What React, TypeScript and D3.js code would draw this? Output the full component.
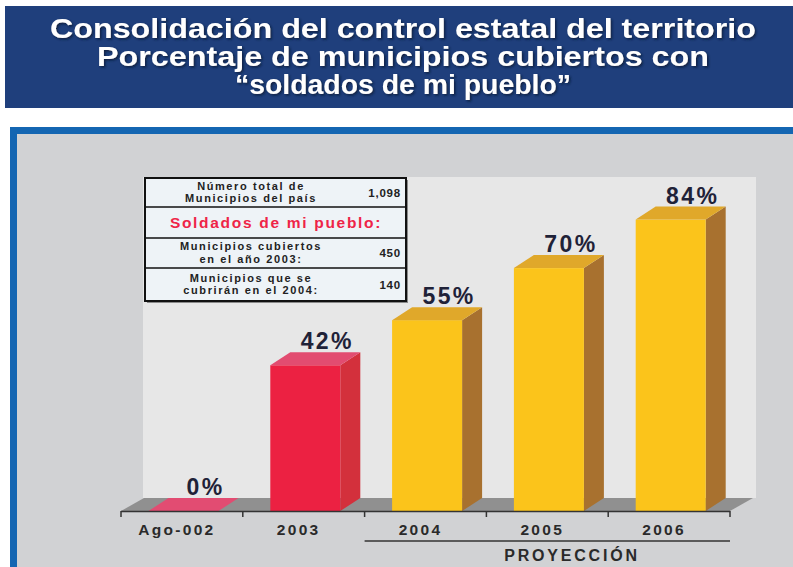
import React from "react";
import * as d3 from "d3";

const titleLines = [
  "Consolidación del control estatal del territorio",
  "Porcentaje de municipios cubiertos con",
  "“soldados de mi pueblo”",
];
const titleWidths = [706, 612, 336];
const categories = ["Ago-002", "2003", "2004", "2005", "2006"];
const values = [0, 42, 55, 70, 84];
const barKinds = ["real", "real", "proj", "proj", "proj"];
const projectionLabel = "PROYECCIÓN";
const projectionFrom = "2004";

const tableRows = [
  { lines: ["Número total de", "Municipios del país"], value: "1,098" },
  { lines: ["Soldados de mi pueblo:"], value: "", highlight: true },
  { lines: ["Municipios cubiertos", "en el año 2003:"], value: "450" },
  { lines: ["Municipios que se", "cubrirán en el 2004:"], value: "140" },
];

const palette = {
  real: { front: "#ec2142", side: "#d3303c", top: "#e24c70" },
  proj: { front: "#fbc41b", side: "#a8712f", top: "#e0a82a" },
};

export default function App() {
  const W = 793;
  const H = 567;
  const x = d3.scaleBand<string>().domain(categories).range([121, 730]).padding(0);
  const y = d3.scaleLinear().domain([0, 100]).range([511, 164]);
  const bw = x.bandwidth();
  const barW = 70;
  const dx = 20;
  const dy = -13;
  const fdx = 23;
  const fdy = -13;
  const y0 = y(0);
  const wallLeft = 121 + fdx - 1;
  const wallRight = 730 + fdx + 3;
  const wallTop = 177;

  const tableX = 145;
  const tableW = 261;
  const rowTops = [178, 207, 238, 268, 301];
  const font = "'Liberation Sans', Arial, sans-serif";

  const projStart = x(projectionFrom)!;
  const projEnd = 730;

  return (
    <svg
      width={W}
      height={H}
      style={{ position: "absolute", left: 0, top: 0 }}
      fontFamily={font}
    >
      <defs>
        <filter id="tshadow" x="-10%" y="-20%" width="120%" height="150%">
          <feDropShadow dx="1.5" dy="1.5" stdDeviation="0.8" floodColor="#0a1a3a" floodOpacity="0.9" />
        </filter>
      </defs>
      <rect x={0} y={0} width={W} height={H} fill="#ffffff" />
      {/* title */}
      <rect x={5} y={6} width={W - 5} height={102} fill="#1f3f7c" />
      {titleLines.map((t, i) => (
        <text
          key={i}
          x={403}
          y={38 + i * 28}
          textAnchor="middle"
          fill="#ffffff"
          fontWeight="bold"
          fontSize={27}
          filter="url(#tshadow)"
          textLength={titleWidths[i]}
          lengthAdjust="spacingAndGlyphs"
        >
          {t}
        </text>
      ))}

      {/* frame */}
      <rect x={10} y={127} width={W - 10} height={H - 127} fill="#1466b2" />
      <rect x={17} y={134} width={W - 17} height={H - 134} fill="#d1d2d4" />

      {/* back wall */}
      <rect x={wallLeft} y={wallTop} width={wallRight - wallLeft} height={y0 + fdy - wallTop} fill="#e7e7e7" />
      {/* floor */}
      <polygon
        points={`121,${y0} 730,${y0} ${730 + fdx},${y0 + fdy} ${121 + fdx},${y0 + fdy}`}
        fill="#909090"
      />

      {/* bars */}
      {categories.map((c, i) => {
        const v = values[i];
        const col = palette[barKinds[i] as "real" | "proj"];
        const x0 = x(c)! + 27.5;
        const x1 = x0 + barW;
        const yt = y(v);
        return (
          <g key={c}>
            {v > 0 && (
              <>
                <polygon
                  points={`${x1},${yt} ${x1 + dx},${yt + dy} ${x1 + dx},${y0 + dy} ${x1},${y0}`}
                  fill={col.side}
                />
                <rect x={x0} y={yt} width={barW} height={y0 - yt} fill={col.front} />
              </>
            )}
            <polygon
              points={`${x0},${yt} ${x1},${yt} ${x1 + dx},${yt + dy} ${x0 + dx},${yt + dy}`}
              fill={v > 0 ? col.top : "#e24c72"}
            />
            <text
              x={x0 + barW / 2 + 22}
              y={yt + dy - 3}
              textAnchor="middle"
              fontSize={23}
              fontWeight="bold"
              fill="#1f2238"
              letterSpacing={2.4}
            >
              {`${v}%`}
            </text>
          </g>
        );
      })}

      {/* axis */}
      <line x1={121} x2={730} y1={y0 + 0.5} y2={y0 + 0.5} stroke="#333" strokeWidth={1.5} />
      {[...categories.map((c) => x(c)!), 730].map((tx, i) => (
        <line key={i} x1={tx} x2={tx} y1={y0} y2={y0 + 6} stroke="#333" strokeWidth={1.5} />
      ))}
      {categories.map((c) => (
        <text
          key={c}
          x={x(c)! + bw / 2 - 5}
          y={535}
          textAnchor="middle"
          fontSize={15.5}
          fontWeight="bold"
          fill="#2a2a2a"
          letterSpacing={2.3}
        >
          {c}
        </text>
      ))}
      <line x1={projStart} x2={projEnd} y1={541} y2={541} stroke="#333" strokeWidth={1.5} />
      <text
        x={572}
        y={561}
        textAnchor="middle"
        fontSize={16}
        fontWeight="bold"
        fill="#2a2a2a"
        letterSpacing={2.8}
      >
        {projectionLabel}
      </text>

      {/* table */}
      <rect x={tableX + 2} y={rowTops[0] + 2} width={tableW} height={rowTops[4] - rowTops[0]} fill="#8a8a8a" />
      <rect x={tableX} y={rowTops[0]} width={tableW} height={rowTops[4] - rowTops[0]} fill="#eef3f7" stroke="#111" strokeWidth={2} />
      {rowTops.slice(1, 4).map((ry, i) => (
        <line key={i} x1={tableX} x2={tableX + tableW} y1={ry} y2={ry} stroke="#111" strokeWidth={1.5} />
      ))}
      {tableRows.map((r, i) => {
        const top = rowTops[i];
        const bot = rowTops[i + 1];
        const mid = (top + bot) / 2;
        if (r.highlight) {
          return (
            <text
              key={i}
              x={276}
              y={mid + 5.5}
              textAnchor="middle"
              fontSize={15.5}
              fontWeight="bold"
              fill="#ee2447"
              letterSpacing={1.7}
            >
              {r.lines[0]}
            </text>
          );
        }
        return (
          <g key={i}>
            {r.lines.map((l, j) => (
              <text
                key={j}
                x={251}
                y={mid - 3 + j * 12.5}
                textAnchor="middle"
                fontSize={11}
                fontWeight="bold"
                fill="#222"
                letterSpacing={1.6}
              >
                {l}
              </text>
            ))}
            <text x={401} y={mid + 4} textAnchor="end" fontSize={11.5} fontWeight="bold" fill="#222" letterSpacing={0.8}>
              {r.value}
            </text>
          </g>
        );
      })}
    </svg>
  );
}
